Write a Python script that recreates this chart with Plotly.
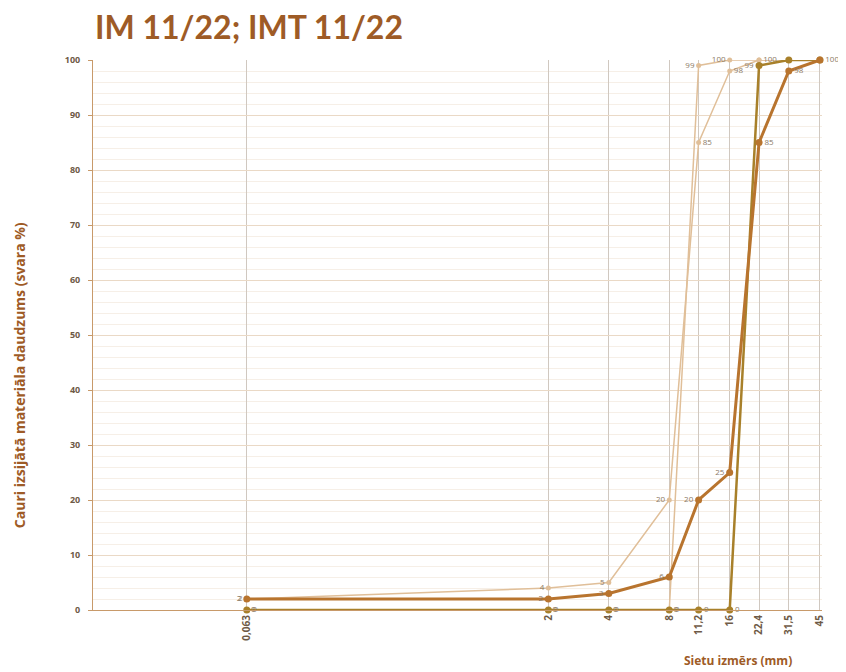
import numpy as np
import plotly.graph_objects as go

# sieve sizes (mm) and passing percentages
sieves = [0.063, 2, 4, 8, 11.2, 16, 22.4, 31.5, 45]
sieve_labels = ["0,063", "2", "4", "8", "11,2", "16", "22,4", "31,5", "45"]

light_upper = [2, 4, 5, 20, 85, 98, 100, 100, 100]
light_lower = [0, 0, 0, 0, 99, 100, 100, 100, 100]
dark_upper = [2, 2, 3, 6, 20, 25, 85, 98, 100]
dark_lower = [0, 0, 0, 0, 0, 0, 99, 100, 100]

y_ticks = list(range(0, 101, 10))

BROWN = "#9e5b26"
LIGHT = "#e0bf99"
DARK = "#b8742e"
OLIVE = "#a8802a"
TICK = "#6e5a46"


def add_curve(fig, y, color, width, msize, positions, shown):
    # shown: which points get a data label (the rest overlap in the original)
    fig.add_trace(go.Scatter(
        x=sieves, y=y,
        mode="lines+markers+text",
        line=dict(color=color, width=width),
        marker=dict(color=color, size=msize, symbol="circle"),
        text=[str(v) if s else "" for v, s in zip(y, shown)],
        textposition=positions,
        textfont=dict(size=8, color="#8c7a66", family="Open Sans"),
        cliponaxis=False,
        showlegend=False,
    ))


fig = go.Figure()

add_curve(fig, light_lower, LIGHT, 1.5, 5,
          ["middle right"] * 4 + ["middle left", "middle left"] + ["middle right"] * 3,
          [1, 1, 1, 1, 1, 1, 0, 0, 0])
add_curve(fig, light_upper, LIGHT, 1.5, 5,
          ["middle left"] * 4 + ["middle right"] * 5,
          [1, 1, 1, 1, 1, 1, 1, 0, 0])
add_curve(fig, dark_lower, OLIVE, 2.5, 7,
          ["middle right"] * 6 + ["middle left", "middle left", "middle right"],
          [1, 1, 1, 1, 1, 1, 1, 0, 0])
add_curve(fig, dark_upper, DARK, 3, 7,
          ["middle left"] * 6 + ["middle right"] * 3,
          [1] * 9)

lo = np.log10(0.0108)
hi = np.log10(46.1)

fig.update_layout(
    width=846, height=672,
    margin=dict(l=85, r=32, t=52, b=70),
    paper_bgcolor="white",
    plot_bgcolor="white",
    font=dict(family="Open Sans", color=BROWN),
    title=dict(
        text="<b>IM 11/22; IMT 11/22</b>",
        x=87 / 846, xanchor="left",
        y=1 - 20 / 672, yanchor="middle",
        font=dict(size=32, color=BROWN, family="Lato"),
    ),
    xaxis=dict(
        type="log",
        range=[lo, hi],
        tickvals=sieves,
        ticktext=[f"<b>{t}</b>" for t in sieve_labels],
        tickangle=-90,
        tickfont=dict(size=10, color=TICK),
        showgrid=True,
        gridcolor="#d0c8c0",
        gridwidth=1,
        showline=True,
        linecolor="#c89a6a",
        linewidth=1,
        zeroline=False,
        ticks="",
    ),
    yaxis=dict(
        range=[0, 100],
        tickvals=y_ticks,
        ticktext=[f"<b>{v}</b>" for v in y_ticks],
        tickfont=dict(size=9, color=TICK),
        ticklabelstandoff=6,
        showgrid=True,
        gridcolor="#ead9c6",
        gridwidth=1,
        minor=dict(dtick=2, showgrid=True, gridcolor="#f6efe7"),
        showline=True,
        linecolor="#c89a6a",
        linewidth=1,
        ticks="outside",
        ticklen=4,
        tickcolor="#c89a6a",
        zeroline=False,
    ),
    annotations=[
        dict(text="<b>Cauri izsijātā materiāla daudzums (svara %)</b>",
             xref="paper", yref="paper", x=-0.1015, y=0.427,
             xanchor="center", yanchor="middle",
             textangle=-90, showarrow=False,
             font=dict(size=14, color=BROWN)),
        dict(text="<b>Sietu izmērs (mm)</b>",
             xref="paper", yref="paper", x=0.885, y=-0.091,
             xanchor="center", yanchor="middle",
             showarrow=False,
             font=dict(size=12, color=BROWN)),
    ],
)

fig.write_html("out.html")
